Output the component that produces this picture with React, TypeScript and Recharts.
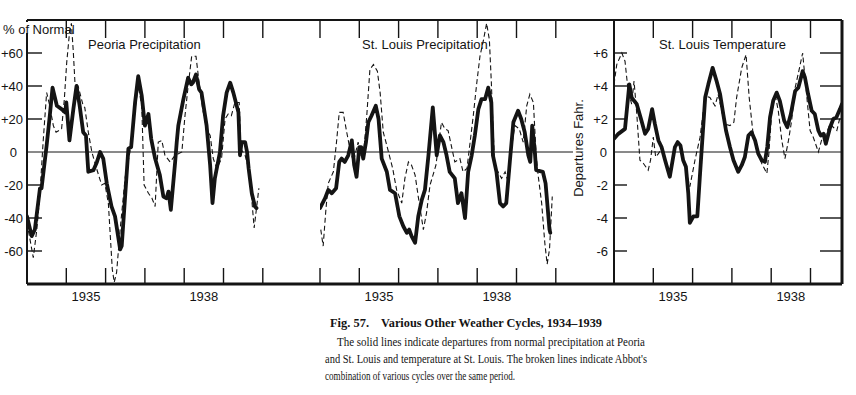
import React from 'react';
import { LineChart, Line, XAxis, YAxis, ReferenceLine } from 'recharts';

type Pt = [number, number];

// ---------------- data (year, value) ----------------
const peoriaSolid: Pt[] = [
  [1934.0, -39], [1934.12, -51], [1934.2, -47], [1934.33, -22], [1934.37, -22], [1934.5, 4], [1934.58, 22],
  [1934.65, 39], [1934.76, 28], [1934.88, 26], [1934.97, 24], [1935.0, 30], [1935.08, 7], [1935.18, 26],
  [1935.26, 40], [1935.34, 28], [1935.43, 12], [1935.5, 10], [1935.56, -12], [1935.69, -11], [1935.78, -6],
  [1935.86, 0], [1935.94, -4], [1936.03, -19], [1936.15, -33], [1936.24, -39], [1936.37, -59], [1936.41, -57],
  [1936.58, 2], [1936.65, 3], [1936.75, 30], [1936.83, 46], [1936.92, 34], [1937.0, 16], [1937.09, 23],
  [1937.16, 8], [1937.26, -4], [1937.38, -14], [1937.47, -27], [1937.55, -28], [1937.6, -24], [1937.66, -35],
  [1937.77, -6], [1937.81, 6], [1937.85, 16], [1937.98, 32], [1938.1, 45], [1938.18, 41], [1938.22, 42],
  [1938.3, 47], [1938.38, 38], [1938.44, 36], [1938.57, 16], [1938.66, -8], [1938.72, -31], [1938.78, -16],
  [1938.91, 0], [1938.99, 22], [1939.08, 36], [1939.17, 42], [1939.25, 36], [1939.38, 24], [1939.42, -2],
  [1939.46, 6], [1939.55, 6], [1939.6, 0], [1939.64, -10], [1939.72, -25], [1939.8, -33], [1939.84, -34],
];

const peoriaDashed: Pt[] = [
  [1934.0, -43], [1934.16, -64], [1934.25, -47], [1934.33, -25], [1934.41, 6], [1934.5, 36], [1934.56, 30],
  [1934.67, 16], [1934.74, 12], [1934.88, 14], [1934.95, 32], [1935.01, 54], [1935.08, 72], [1935.13, 78],
  [1935.18, 60], [1935.22, 42], [1935.3, 40], [1935.43, 28], [1935.47, 27], [1935.56, 12], [1935.65, 0],
  [1935.77, -10], [1935.9, -20], [1935.98, -19], [1936.07, -31], [1936.17, -71], [1936.22, -79], [1936.28, -73],
  [1936.37, -47], [1936.5, -15], [1936.65, 4], [1936.75, 26], [1936.83, 40], [1936.92, 28], [1936.98, -20],
  [1937.09, -25], [1937.18, -28], [1937.26, -33], [1937.34, 6], [1937.43, 7], [1937.51, -2], [1937.64, -6],
  [1937.77, -2], [1937.94, 0], [1938.02, 22], [1938.1, 40], [1938.19, 58], [1938.3, 58], [1938.38, 42],
  [1938.47, 26], [1938.57, 14], [1938.66, 10], [1938.74, -4], [1938.83, -10], [1938.95, -4], [1939.04, 20],
  [1939.12, 23], [1939.2, 22], [1939.29, 30], [1939.4, 30], [1939.44, 2], [1939.55, -2], [1939.66, -12],
  [1939.78, -46], [1939.9, -22],
];

const stLouisPrecipSolid: Pt[] = [
  [1934.0, -34], [1934.13, -28], [1934.21, -23], [1934.3, -25], [1934.41, -22], [1934.49, -6], [1934.55, -4],
  [1934.63, -6], [1934.72, -2], [1934.81, 7], [1934.87, -8], [1934.93, -15], [1935.0, 3], [1935.05, 3],
  [1935.1, -4], [1935.17, 6], [1935.23, 18], [1935.31, 22], [1935.42, 28], [1935.49, 20], [1935.57, -4],
  [1935.7, -12], [1935.78, -23], [1935.91, -25], [1936.02, -39], [1936.12, -45], [1936.21, -49], [1936.27, -47],
  [1936.33, -51], [1936.42, -55], [1936.5, -39], [1936.59, -29], [1936.67, -23], [1936.76, -2], [1936.87, 27],
  [1936.97, -2], [1937.05, 10], [1937.14, 6], [1937.22, -2], [1937.3, -12], [1937.43, -16], [1937.51, -31],
  [1937.6, -25], [1937.69, -40], [1937.77, -12], [1937.86, -2], [1937.94, 10], [1938.03, 26], [1938.11, 32],
  [1938.2, 32], [1938.28, 39], [1938.36, 30], [1938.4, -2], [1938.49, -12], [1938.58, -31], [1938.66, -33],
  [1938.74, -31], [1938.83, -6], [1938.92, 18], [1939.04, 25], [1939.12, 20], [1939.21, 12], [1939.3, -2],
  [1939.35, -6], [1939.4, 16], [1939.46, 2], [1939.5, -11], [1939.67, -12], [1939.74, -19], [1939.84, -47],
  [1939.86, -49],
];

const stLouisPrecipDashed: Pt[] = [
  [1934.02, -47], [1934.08, -57], [1934.15, -35], [1934.21, -19], [1934.34, -12], [1934.42, 6], [1934.49, 24],
  [1934.59, 24], [1934.68, 12], [1934.76, 2], [1934.85, -6], [1934.97, 6], [1935.04, -2], [1935.1, -4],
  [1935.19, 22], [1935.27, 50], [1935.36, 53], [1935.46, 49], [1935.53, 36], [1935.61, 12], [1935.7, 4],
  [1935.85, -10], [1935.95, -23], [1936.08, -31], [1936.16, -16], [1936.25, -6], [1936.33, -8], [1936.42, -14],
  [1936.5, -27], [1936.63, -47], [1936.71, -37], [1936.8, -20], [1936.95, -8], [1937.09, 18], [1937.18, 14],
  [1937.26, 13], [1937.34, 4], [1937.43, -6], [1937.56, -4], [1937.64, -12], [1937.74, -10], [1937.82, 6],
  [1937.9, 22], [1937.99, 42], [1938.07, 58], [1938.16, 68], [1938.24, 78], [1938.31, 68], [1938.36, 42],
  [1938.4, 16], [1938.45, -10], [1938.53, -12], [1938.62, -16], [1938.71, -12], [1938.8, -19], [1938.88, 4],
  [1938.96, 16], [1939.07, 14], [1939.17, 6], [1939.26, 28], [1939.34, 35], [1939.43, 30], [1939.5, -2],
  [1939.55, -14], [1939.64, -31], [1939.72, -55], [1939.78, -68], [1939.84, -59], [1939.91, -27],
];

const stLouisTempSolid: Pt[] = [
  [1934.0, 0.8], [1934.11, 1.1], [1934.28, 1.4], [1934.39, 4.1], [1934.45, 3.3], [1934.58, 2.9], [1934.7, 1.9],
  [1934.79, 1.1], [1934.87, 1.4], [1934.97, 2.6], [1935.04, 1.7], [1935.13, 0.7], [1935.21, 0.3], [1935.3, -0.5],
  [1935.42, -1.5], [1935.55, 0.3], [1935.62, 0.6], [1935.69, 0.4], [1935.76, -0.5], [1935.83, -0.9],
  [1935.89, -2.5], [1935.93, -4.3], [1936.02, -3.9], [1936.12, -3.9], [1936.19, -1.3], [1936.32, 3.3],
  [1936.4, 4.1], [1936.51, 5.1], [1936.61, 4.3], [1936.7, 3.5], [1936.78, 2.3], [1936.85, 1.3], [1936.95, 0.3],
  [1937.04, -0.5], [1937.16, -1.2], [1937.25, -0.8], [1937.33, -0.3], [1937.42, 1.0], [1937.5, 1.2],
  [1937.59, 0.7], [1937.67, -0.1], [1937.76, -0.5], [1937.84, -0.6], [1937.9, 0.3], [1937.97, 2.1],
  [1938.05, 3.1], [1938.14, 3.6], [1938.22, 3.1], [1938.33, 1.9], [1938.41, 1.5], [1938.5, 2.3], [1938.61, 3.7],
  [1938.69, 3.9], [1938.8, 4.9], [1938.86, 4.5], [1938.94, 3.5], [1939.03, 2.5], [1939.11, 2.3], [1939.2, 1.3],
  [1939.26, 1.0], [1939.33, 1.1], [1939.39, 0.5], [1939.5, 1.5], [1939.58, 2.0], [1939.66, 2.1], [1939.75, 2.6],
  [1939.8, 2.9],
];

const stLouisTempDashed: Pt[] = [
  [1934.0, 4.1], [1934.07, 5.3], [1934.2, 6.0], [1934.28, 5.5], [1934.36, 3.7], [1934.45, 2.9], [1934.51, 4.3],
  [1934.58, 2.3], [1934.66, -0.5], [1934.75, -0.7], [1934.87, -1.1], [1934.93, -0.5], [1935.0, 0.9],
  [1935.06, -0.3], [1935.13, -0.1], [1935.21, 0.2], [1935.3, -0.5], [1935.42, -1.3], [1935.55, 0.3],
  [1935.62, 0.6], [1935.69, 0.3], [1935.76, -0.5], [1935.93, -2.1], [1936.06, -0.5], [1936.19, 0.9],
  [1936.32, 3.4], [1936.44, 3.3], [1936.57, 2.8], [1936.65, 3.5], [1936.74, 2.5], [1936.82, 1.7], [1936.95, 1.6],
  [1937.05, 1.8], [1937.12, 3.3], [1937.25, 5.1], [1937.36, 5.9], [1937.44, 3.3], [1937.53, 1.3], [1937.63, 0.1],
  [1937.76, -0.7], [1937.89, -1.3], [1937.94, -0.1], [1938.01, 2.3], [1938.1, 3.5], [1938.18, 2.5],
  [1938.27, 0.7], [1938.35, -0.4], [1938.44, 0.7], [1938.52, 1.9], [1938.61, 3.9], [1938.72, 5.1], [1938.8, 6.0],
  [1938.86, 4.5], [1938.94, 2.5], [1938.99, 1.3], [1939.07, 0.9], [1939.2, 0.0], [1939.28, 0.7], [1939.36, 0.9],
  [1939.5, 1.7], [1939.58, 1.5], [1939.67, 1.3], [1939.75, 2.1],
];

// ---------------- ticks & labels ----------------
const precipTicks = [-60, -40, -20, 0, 20, 40, 60];
const tempTicks = [-6, -4, -2, 0, 2, 4, 6];
const peoriaYears = [1935, 1936, 1937, 1938, 1939, 1940];
const stLouisPrecipYears = [1934, 1935, 1936, 1937, 1938, 1939, 1940];
const stLouisTempYears = [1935, 1936, 1937, 1938, 1939];
const labelYears = [1935, 1938];

const panelTitles = ['Peoria Precipitation', 'St. Louis Precipitation', 'St. Louis Temperature'];
const precipAxisTitle = '% of Normal';
const tempAxisTitle = 'Departures Fahr.';
const figNumber = 'Fig. 57.';
const figTitle = 'Various Other Weather Cycles, 1934–1939';
const captionLines = [
  'The solid lines indicate departures from normal precipitation at Peoria',
  "and St. Louis and temperature at St. Louis. The broken lines indicate Abbot's",
  'combination of various cycles over the same period.',
];

// ---------------- layout ----------------
const START_YEAR = 1934;
const PX_PER_YEAR = 39.3;
const PLOT_TOP = 20;
const PLOT_BOTTOM = 284;
const PLOT_H = PLOT_BOTTOM - PLOT_TOP;
const CHART_H = 310;
const INK = '#141414';
const SANS = '"Liberation Sans", Arial, Helvetica, sans-serif';
const SERIF = '"Liberation Serif", "Times New Roman", serif';

const toRows = (pts: Pt[]) => pts.map(([t, v]) => ({ t, v }));
const fmt = (v: number) => (v > 0 ? `+${v}` : `${v}`);

interface PanelProps {
  boxLeft: number;
  boxWidth: number;
  plotLeft: number;
  plotRight: number;
  yDomain: [number, number];
  yTicks: number[];
  showYAxis: boolean;
  leftTickLen: number;
  rightTickLen: number;
  labelGap: number;
  zeroLabelGap: number;
  yearTicks: number[];
  solid: Pt[];
  dashed: Pt[];
  zeroEnd?: number;
  rightBorder: boolean;
}

function Panel(p: PanelProps) {
  const plotW = p.plotRight - p.plotLeft;
  const xMax = START_YEAR + plotW / PX_PER_YEAR;
  const yAxisW = p.showYAxis ? p.plotLeft - p.boxLeft : 0;
  const margin = {
    top: PLOT_TOP,
    bottom: 0,
    left: p.showYAxis ? 0 : p.plotLeft - p.boxLeft,
    right: p.boxLeft + p.boxWidth - p.plotRight,
  };
  const xTickValues = [...p.yearTicks, ...labelYears.map((y) => y + 0.5)].sort((a, b) => a - b);

  const XTick = (props: any) => {
    const { x, y, payload } = props;
    const v = payload.value as number;
    if (Number.isInteger(v)) {
      return (
        <g>
          <line x1={x} x2={x} y1={y} y2={y - 16} stroke={INK} strokeWidth={1.4} />
          <line x1={x} x2={x} y1={y - PLOT_H} y2={y - PLOT_H + 18} stroke={INK} strokeWidth={1.4} />
        </g>
      );
    }
    return (
      <text x={x} y={y + 17} textAnchor="middle" fontFamily={SANS} fontSize={13} fill={INK}>
        {String(Math.floor(v))}
      </text>
    );
  };

  const YTick = (props: any) => {
    const { x, y, payload } = props;
    const v = payload.value as number;
    return (
      <g>
        {v !== 0 && <line x1={x} x2={x + p.leftTickLen} y1={y} y2={y} stroke={INK} strokeWidth={1.4} />}
        {v !== 0 && p.rightTickLen > 0 && (
          <line x1={x + plotW} x2={x + plotW - p.rightTickLen} y1={y} y2={y} stroke={INK} strokeWidth={1.4} />
        )}
        <text
          x={v === 0 ? x - p.zeroLabelGap : x - p.labelGap}
          y={y}
          dy={4.5}
          textAnchor="end"
          fontFamily={SANS}
          fontSize={13}
          fill={INK}
        >
          {fmt(v)}
        </text>
      </g>
    );
  };

  return (
    <div style={{ position: 'absolute', left: p.boxLeft, top: 0 }}>
      <LineChart width={p.boxWidth} height={CHART_H} margin={margin}>
        <XAxis
          type="number"
          dataKey="t"
          domain={[START_YEAR, xMax]}
          allowDataOverflow
          ticks={xTickValues}
          interval={0}
          tickLine={false}
          tickSize={0}
          tickMargin={0}
          height={CHART_H - PLOT_BOTTOM}
          axisLine={{ stroke: INK, strokeWidth: 3 }}
          tick={XTick}
        />
        {p.showYAxis ? (
          <YAxis
            type="number"
            domain={p.yDomain}
            allowDataOverflow
            ticks={p.yTicks}
            interval={0}
            tickLine={false}
            tickSize={0}
            tickMargin={0}
            width={yAxisW}
            axisLine={{ stroke: INK, strokeWidth: 2 }}
            tick={YTick}
          />
        ) : (
          <YAxis type="number" domain={p.yDomain} allowDataOverflow hide />
        )}
        <ReferenceLine y={p.yDomain[1]} stroke={INK} strokeWidth={2} />
        {p.zeroEnd !== undefined ? (
          <ReferenceLine
            segment={[
              { x: START_YEAR, y: 0 },
              { x: p.zeroEnd, y: 0 },
            ]}
            stroke={INK}
            strokeWidth={1}
          />
        ) : (
          <ReferenceLine y={0} stroke={INK} strokeWidth={1} />
        )}
        {p.rightBorder && <ReferenceLine x={xMax} stroke={INK} strokeWidth={3} />}
        <Line
          data={toRows(p.solid)}
          dataKey="v"
          type="linear"
          stroke={INK}
          strokeWidth={3.8}
          strokeLinejoin="round"
          strokeLinecap="round"
          dot={false}
          isAnimationActive={false}
        />
        <Line
          data={toRows(p.dashed)}
          dataKey="v"
          type="linear"
          stroke={INK}
          strokeWidth={1.1}
          strokeDasharray="5 3"
          dot={false}
          isAnimationActive={false}
        />
      </LineChart>
    </div>
  );
}

export default function App() {
  return (
    <div style={{ position: 'absolute', left: 0, top: 0, width: 856, height: 395, background: '#fff' }}>
      <Panel
        boxLeft={0}
        boxWidth={330}
        plotLeft={27}
        plotRight={320}
        yDomain={[-80, 80]}
        yTicks={precipTicks}
        showYAxis
        leftTickLen={15}
        rightTickLen={0}
        labelGap={4}
        zeroLabelGap={10}
        yearTicks={peoriaYears}
        solid={peoriaSolid}
        dashed={peoriaDashed}
        rightBorder={false}
      />
      <Panel
        boxLeft={290}
        boxWidth={330}
        plotLeft={320}
        plotRight={614}
        yDomain={[-80, 80]}
        yTicks={precipTicks}
        showYAxis={false}
        leftTickLen={0}
        rightTickLen={0}
        labelGap={4}
        zeroLabelGap={10}
        yearTicks={stLouisPrecipYears}
        solid={stLouisPrecipSolid}
        dashed={stLouisPrecipDashed}
        zeroEnd={START_YEAR + (573 - 320) / PX_PER_YEAR}
        rightBorder={false}
      />
      <Panel
        boxLeft={560}
        boxWidth={296}
        plotLeft={614}
        plotRight={842}
        yDomain={[-8, 8]}
        yTicks={tempTicks}
        showYAxis
        leftTickLen={13}
        rightTickLen={22}
        labelGap={6}
        zeroLabelGap={7}
        yearTicks={stLouisTempYears}
        solid={stLouisTempSolid}
        dashed={stLouisTempDashed}
        rightBorder
      />
      <svg
        width={856}
        height={395}
        style={{ position: 'absolute', left: 0, top: 0, pointerEvents: 'none' }}
      >
        <rect x={23} y={22} width={9} height={11} fill="#fff" />
        <text x={3} y={34} fontFamily={SANS} fontSize={13} fill={INK}>
          {precipAxisTitle}
        </text>
        <text x={88} y={49} fontFamily={SANS} fontSize={13} fill={INK}>
          {panelTitles[0]}
        </text>
        <text x={362} y={49} fontFamily={SANS} fontSize={13} fill={INK}>
          {panelTitles[1]}
        </text>
        <text x={659} y={49} fontFamily={SANS} fontSize={13} fill={INK}>
          {panelTitles[2]}
        </text>
        <text
          x={583}
          y={148}
          transform="rotate(-90 583 148)"
          textAnchor="middle"
          fontFamily={SANS}
          fontSize={13}
          fill={INK}
        >
          {tempAxisTitle}
        </text>
        <text x={330} y={327} fontFamily={SERIF} fontSize={13.5} fontWeight="bold" fill={INK} textLength={39} lengthAdjust="spacingAndGlyphs">
          {figNumber}
        </text>
        <text x={381} y={327} fontFamily={SERIF} fontSize={13.5} fontWeight="bold" fill={INK} textLength={221} lengthAdjust="spacingAndGlyphs">
          {figTitle}
        </text>
        <text x={337} y={346} fontFamily={SERIF} fontSize={12.5} fill={INK} textLength={308} lengthAdjust="spacingAndGlyphs">
          {captionLines[0]}
        </text>
        <text x={325} y={363} fontFamily={SERIF} fontSize={12.5} fill={INK} textLength={322} lengthAdjust="spacingAndGlyphs">
          {captionLines[1]}
        </text>
        <text x={325} y={380} fontFamily={SERIF} fontSize={12.5} fill={INK} textLength={190} lengthAdjust="spacingAndGlyphs">
          {captionLines[2]}
        </text>
      </svg>
    </div>
  );
}
